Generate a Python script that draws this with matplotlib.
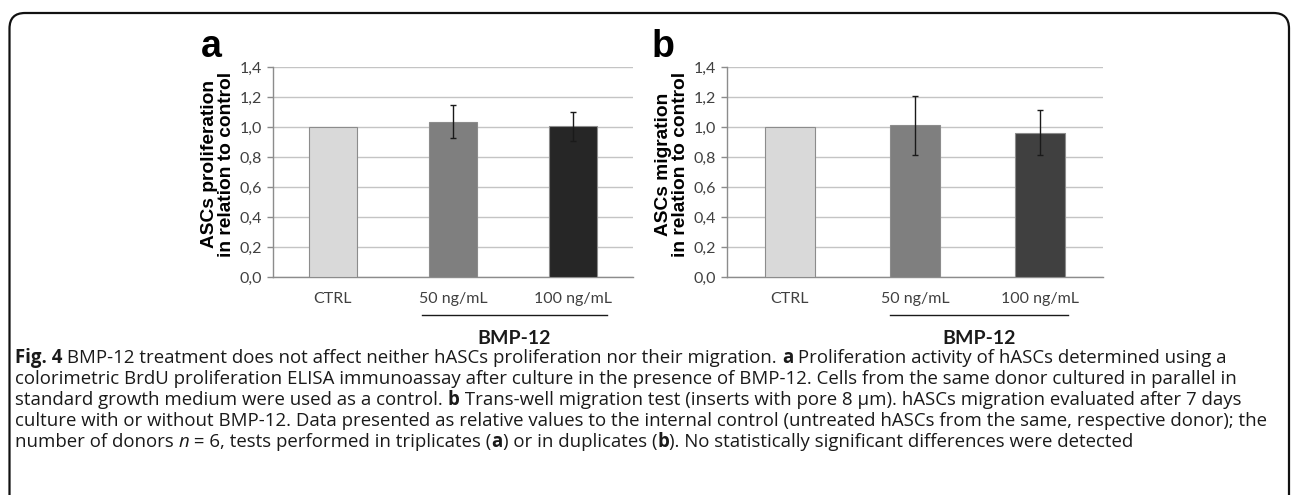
import matplotlib

matplotlib.use("Agg")

import matplotlib.pyplot as plt
from matplotlib.patches import FancyBboxPatch

# data
categories = ["CTRL", "50 ng/mL", "100 ng/mL"]
prolif_mean = [1.00, 1.035, 1.005]
prolif_err = [0.0, 0.11, 0.095]
migr_mean = [1.00, 1.01, 0.963]
migr_err = [0.0, 0.195, 0.148]
yticks = [0.0, 0.2, 0.4, 0.6, 0.8, 1.0, 1.2, 1.4]
ytick_labels = ["0,0", "0,2", "0,4", "0,6", "0,8", "1,0", "1,2", "1,4"]

colors_a = ["#d9d9d9", "#7f7f7f", "#262626"]
colors_b = ["#d9d9d9", "#7f7f7f", "#404040"]

W, H = 1292, 495
TICK_FONT = "Lato"
LABEL_FONT = "Liberation Sans"
CAP_FONT = "Open Sans"

fig = plt.figure(figsize=(W / 100, H / 100), dpi=100)


def px(x, y):
    return x / W, 1 - y / H


def draw_panel(rect, means, errs, colors, letter, letter_xy, ylabel, ylab_xy, bmp_span):
    ax = fig.add_axes(rect)
    x = list(range(len(categories)))
    ax.bar(x, means, width=0.4, color=colors, edgecolor="#8c8c8c", linewidth=0.8, zorder=3)
    ax.errorbar(x[1:], means[1:], yerr=errs[1:], fmt="none", ecolor="#1a1a1a",
                elinewidth=1.0, capsize=2.5, capthick=1.0, zorder=4)
    ax.set_xlim(-0.5, 2.5)
    ax.set_ylim(0, 1.4)
    ax.set_yticks(yticks, ytick_labels)
    ax.set_xticks(x, categories)
    ax.grid(axis="y", color="#c4c4c4", linewidth=1.0, zorder=0)
    for s in ["top", "right"]:
        ax.spines[s].set_visible(False)
    for s in ["left", "bottom"]:
        ax.spines[s].set_color("#8c8c8c")
        ax.spines[s].set_linewidth(1.0)
    ax.tick_params(axis="y", length=4, width=1, color="#8c8c8c", pad=4,
                   labelsize=11.5, labelcolor="#404040")
    ax.tick_params(axis="x", length=0, pad=11, labelsize=11.5, labelcolor="#404040")
    for lab in ax.get_xticklabels() + ax.get_yticklabels():
        lab.set_fontfamily(TICK_FONT)

    # BMP-12 bracket under the treated groups
    trans = ax.get_xaxis_transform()
    ax.plot(bmp_span, [-0.181, -0.181], color="#1a1a1a", lw=1.0, transform=trans, clip_on=False)
    ax.text(sum(bmp_span) / 2, -0.295, "BMP-12", transform=trans, ha="center", va="center",
            fontsize=14, fontweight="bold", family=TICK_FONT, color="#1a1a1a")

    fig.text(*px(*letter_xy), letter, fontsize=27, fontweight="bold", family=LABEL_FONT,
             ha="left", va="baseline")
    fig.text(*px(*ylab_xy), ylabel, rotation=90, ha="center", va="center",
             fontsize=13.8, fontweight="bold", family=LABEL_FONT, linespacing=1.0)
    return ax


draw_panel([273 / W, 1 - 277 / H, 360 / W, 210 / H], prolif_mean, prolif_err, colors_a,
           "a", (201, 57), "ASCs proliferation\nin relation to control", (218, 164),
           [0.74, 2.28])
draw_panel([727 / W, 1 - 277 / H, 376 / W, 210 / H], migr_mean, migr_err, colors_b,
           "b", (652, 57), "ASCs migration\nin relation to control", (672, 164),
           [0.80, 2.22])

# rounded frame, bottom cut off by the image edge
frame = FancyBboxPatch(px(9.5, 520), (1289 - 9.5) / W, (520 - 13) / H,
                       boxstyle="round,pad=0,rounding_size=0.012",
                       transform=fig.transFigure, fill=False, edgecolor="#111111",
                       linewidth=1.6, mutation_aspect=W / H, clip_on=False)
fig.patches.append(frame)

# caption, built run by run so bold / italic pieces stay in place
N, B, I = "normal", "bold", "italic"
caption_lines = [
    [("Fig. 4", B), (" BMP-12 treatment does not affect neither hASCs proliferation nor their migration. ", N),
     ("a", B), (" Proliferation activity of hASCs determined using a", N)],
    [("colorimetric BrdU proliferation ELISA immunoassay after culture in the presence of BMP-12. "
      "Cells from the same donor cultured in parallel in", N)],
    [("standard growth medium were used as a control. ", N), ("b", B),
     (" Trans-well migration test (inserts with pore 8 μm). hASCs migration evaluated after 7 days", N)],
    [("culture with or without BMP-12. Data presented as relative values to the internal control "
      "(untreated hASCs from the same, respective donor); the", N)],
    [("number of donors ", N), ("n", I), (" = 6, tests performed in triplicates (", N), ("a", B),
     (") or in duplicates (", N), ("b", B), ("). No statistically significant differences were detected", N)],
]
cap_size = 13.4
line_y = [363, 384, 405, 426, 447]

renderer = fig.canvas.get_renderer()
for runs, y in zip(caption_lines, line_y):
    x_px = 15.0
    for txt, style in runs:
        kw = dict(fontsize=cap_size, family=CAP_FONT, color="#1a1a1a",
                  fontweight="bold" if style == B else "normal",
                  fontstyle="italic" if style == I else "normal")
        # measure with visible markers so leading/trailing spaces count
        probe = fig.text(0, 0, "|" + txt + "|", **kw)
        bar = fig.text(0, 0, "||", **kw)
        w_full = probe.get_window_extent(renderer).width
        w_bar = bar.get_window_extent(renderer).width
        probe.remove()
        bar.remove()
        fig.text(x_px / W, 1 - y / H, txt, ha="left", va="baseline", **kw)
        x_px += w_full - w_bar

fig.savefig("out.png", dpi=100)
plt.close(fig)
